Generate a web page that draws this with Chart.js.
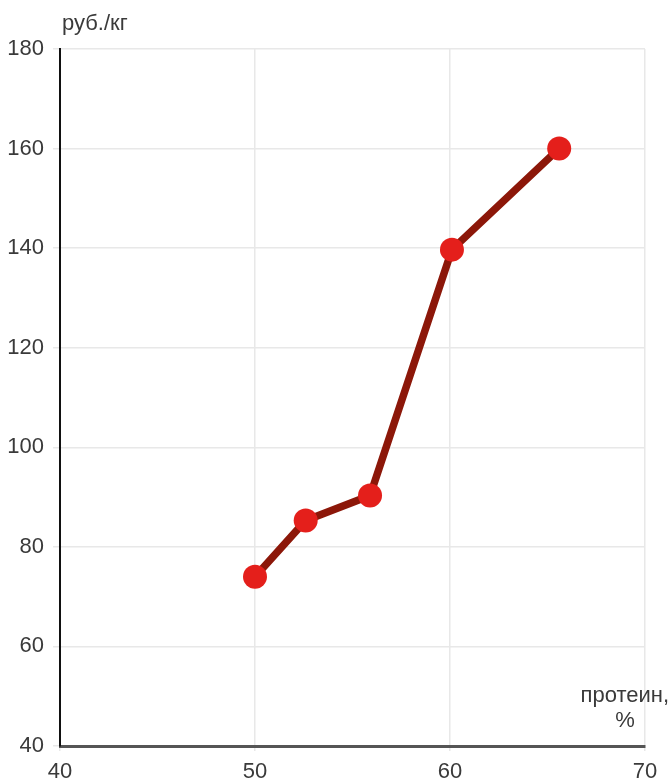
<!DOCTYPE html>
<html>
<head>
<meta charset="utf-8">
<script src="https://cdn.jsdelivr.net/npm/chart.js@4/dist/chart.umd.min.js"></script>
<style>
    html, body { margin: 0; padding: 0; background: #fff; }
    #wrap { width: 670px; height: 782px; position: relative; }
</style>
</head>
<body>
<div id="wrap"><canvas id="priceChart"></canvas></div>
<script>
// Protein content, % and price, rub/kg
const protein = [50, 52.6, 55.9, 60.1, 65.6];
const price = [74, 85.3, 90.3, 139.7, 160];

const xTicks = [40, 50, 60, 70];
const yTicks = [40, 60, 80, 100, 120, 140, 160, 180];

const colors = {
    line: '#8c1709',
    point: '#e41f1b',
    grid: '#e8e8e8',
    text: '#3a3a3a',
    yAxis: '#111111',
    xAxis: '#555555'
};

const fontFamily = "'Liberation Sans', Arial, sans-serif";

// Axis captions drawn in the corners
const axisTitles = {
    id: 'axisTitles',
    afterDraw(chart) {
        const ctx = chart.ctx;
        ctx.save();
        ctx.fillStyle = colors.text;
        ctx.font = '22px ' + fontFamily;
        ctx.textBaseline = 'alphabetic';
        ctx.textAlign = 'left';
        ctx.fillText('руб./кг', 62, 30);
        ctx.textAlign = 'right';
        ctx.fillText('протеин,', 669, 702);
        ctx.textAlign = 'center';
        ctx.fillText('%', 625, 727);
        ctx.restore();
    }
};

const points = protein.map((x, i) => ({ x: x, y: price[i] }));

new Chart(document.getElementById('priceChart'), {
    type: 'scatter',
    data: {
        datasets: [{
            data: points,
            showLine: true,
            borderColor: colors.line,
            borderWidth: 7.5,
            pointBackgroundColor: colors.point,
            pointBorderColor: colors.point,
            pointBorderWidth: 0,
            pointRadius: 12,
            pointHoverRadius: 12,
            tension: 0
        }]
    },
    options: {
        responsive: true,
        maintainAspectRatio: false,
        animation: false,
        layout: { padding: { top: 49, right: 25, left: 0, bottom: 0 } },
        plugins: {
            legend: { display: false },
            tooltip: { enabled: false }
        },
        scales: {
            x: {
                type: 'linear',
                min: 40,
                max: 70,
                afterBuildTicks: (scale) => { scale.ticks = xTicks.map(v => ({ value: v })); },
                afterFit: (scale) => { scale.height = 36; },
                grid: { color: colors.grid, lineWidth: 1.5, drawTicks: true, tickLength: 5 },
                border: { color: colors.xAxis, width: 3 },
                ticks: {
                    color: colors.text,
                    padding: 8,
                    font: { family: fontFamily, size: 22 }
                }
            },
            y: {
                type: 'linear',
                min: 40,
                max: 180,
                afterBuildTicks: (scale) => { scale.ticks = yTicks.map(v => ({ value: v })); },
                afterFit: (scale) => { scale.width = 60; },
                grid: { color: colors.grid, lineWidth: 1.5, drawTicks: true, tickLength: 7 },
                border: { color: colors.yAxis, width: 2 },
                ticks: {
                    color: colors.text,
                    padding: 9,
                    font: { family: fontFamily, size: 22 }
                }
            }
        }
    },
    plugins: [axisTitles]
});
</script>
</body>
</html>
